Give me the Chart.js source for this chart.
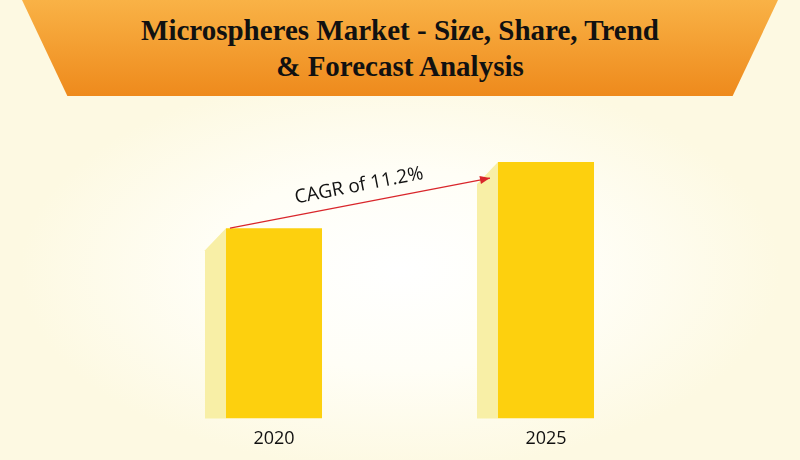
<!DOCTYPE html>
<html>
<head>
<meta charset="utf-8">
<script src="https://cdn.jsdelivr.net/npm/chart.js@4"></script>
<style>
  body { margin: 0; width: 800px; height: 460px; overflow: hidden;
    background: radial-gradient(ellipse 380px 200px at 400px 270px, #ffffff 0%, #fffef6 50%, #fdf9e2 100%); }
  #banner { position: absolute; left: 22px; top: 0; width: 756px; height: 96px;
    clip-path: polygon(0 0, 100% 0, 94% 100%, 6% 100%);
    background: linear-gradient(#f9b246, #ee8a1c); }
  #title { position: absolute; left: 0; top: 12px; width: 800px; text-align: center;
    font-family: "Liberation Serif", serif; font-weight: bold; font-size: 29px; line-height: 36px; color: #111; }
  #myChart { position: absolute; left: 0; top: 0; }
</style>
</head>
<body>
<div id="banner"></div>
<div id="title">Microspheres Market - Size, Share, Trend<br>&amp; Forecast Analysis</div>
<canvas id="myChart" width="800" height="460"></canvas>
<script>
var anni = ['2020', '2025'];
var valori = [190, 256];
var cagrText = 'CAGR of 11.2%';

// facce laterali e freccia CAGR
var extras = {
    id: 'extras',
    beforeDatasetsDraw: function (chart) {
        var ctx = chart.ctx;
        chart.getDatasetMeta(0).data.forEach(function (bar) {
            var x = bar.x - bar.width / 2;
            ctx.fillStyle = '#f8efa6';
            ctx.beginPath();
            ctx.moveTo(x - 21, bar.y + 22);
            ctx.lineTo(x, bar.y);
            ctx.lineTo(x, bar.base);
            ctx.lineTo(x - 21, bar.base);
            ctx.closePath();
            ctx.fill();
        });
    },
    afterDatasetsDraw: function (chart) {
        var ctx = chart.ctx;
        var bars = chart.getDatasetMeta(0).data;
        var x1 = bars[0].x - bars[0].width / 2 + 4, y1 = bars[0].y;
        var x2 = bars[1].x - bars[1].width / 2 - 8, y2 = bars[1].y + 16;
        var ang = Math.atan2(y2 - y1, x2 - x1);
        ctx.save();
        ctx.strokeStyle = '#d9262b';
        ctx.fillStyle = '#d9262b';
        ctx.lineWidth = 1.2;
        ctx.beginPath();
        ctx.moveTo(x1, y1);
        ctx.lineTo(x2, y2);
        ctx.stroke();
        ctx.translate(x2, y2);
        ctx.rotate(ang);
        ctx.beginPath();
        ctx.moveTo(0, 0);
        ctx.lineTo(-10, -4);
        ctx.lineTo(-10, 4);
        ctx.closePath();
        ctx.fill();
        ctx.restore();
        ctx.save();
        ctx.translate((x1 + x2) / 2, (y1 + y2) / 2 - 12);
        ctx.rotate(ang);
        ctx.fillStyle = '#111';
        ctx.font = '19px "Open Sans", sans-serif';
        ctx.textAlign = 'center';
        ctx.fillText(cagrText, 0, 0);
        ctx.restore();
    }
};

var chart = new Chart(document.getElementById('myChart'), {
    type: 'bar',
    data: {
        labels: anni,
        datasets: [{
            data: valori,
            backgroundColor: '#fdd00e',
            barPercentage: 0.353,
            categoryPercentage: 1
        }]
    },
    options: {
        responsive: false,
        animation: false,
        devicePixelRatio: 1,
        layout: { padding: { left: 138, right: 118, top: 112, bottom: 8 } },
        plugins: { legend: { display: false }, tooltip: { enabled: false } },
        scales: {
            y: { display: false, min: 0, max: 306 },
            x: {
                grid: { display: false },
                border: { display: false },
                ticks: { color: '#111', font: { size: 18, family: 'Open Sans' }, padding: 2 }
            }
        }
    },
    plugins: [extras]
});
</script>
</body>
</html>
